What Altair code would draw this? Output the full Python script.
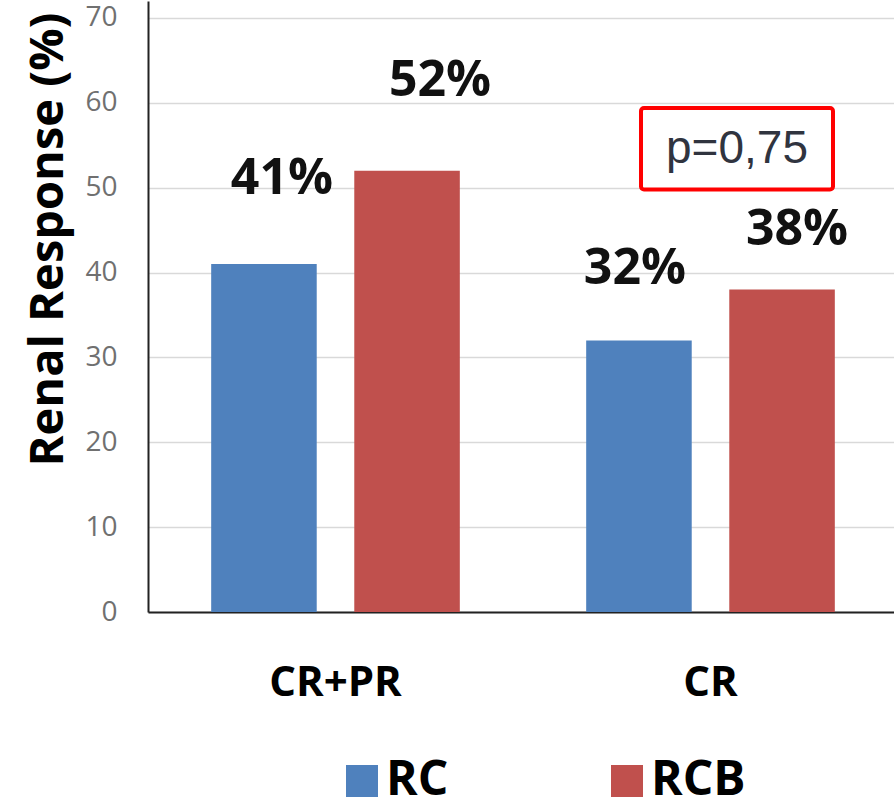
import altair as alt
import pandas as pd

# ---- data ----
categories = ["CR+PR", "CR"]
series = ["RC", "RCB"]
rc_values = [41, 32]
rcb_values = [52, 38]
rc_labels = ["41%", "32%"]
rcb_labels = ["52%", "38%"]
y_ticks = [0, 10, 20, 30, 40, 50, 60, 70]
p_text = ["p=0,75"]
p_box_low = [49.8]
p_box_high = [59.4]
p_text_y = [54.6]

colors = ["#4F81BD", "#C0504D"]

rows = []
for i, c in enumerate(categories):
    rows.append({"cat": c, "series": "RC", "value": rc_values[i], "label": rc_labels[i]})
    rows.append({"cat": c, "series": "RCB", "value": rcb_values[i], "label": rcb_labels[i]})
df = pd.DataFrame(rows)

# label offsets (style only): (dx, dy)
label_style = {
    ("CR+PR", "RC"): (18, -70),
    ("CR+PR", "RCB"): (33, -75),
    ("CR", "RC"): (-4, -56),
    ("CR", "RCB"): (15, -45),
}

FONT = "Open Sans"

x_enc = alt.X(
    "cat:N",
    sort=categories,
    scale=alt.Scale(domain=categories, range=[0, 750], paddingInner=0, paddingOuter=0),
    axis=alt.Axis(
        title=None, labelAngle=0, ticks=False, grid=False,
        labelFont=FONT, labelFontSize=42, labelFontWeight="bold", labelColor="#000000",
        labelPadding=50, domainColor="#222222", domainWidth=2,
    ),
)
xo_enc = alt.XOffset(
    "series:N",
    sort=series,
    scale=alt.Scale(domain=series, paddingInner=0.2624, paddingOuter=0.4415),
)
y_enc = alt.Y(
    "value:Q",
    scale=alt.Scale(domain=[0, 72], nice=False, zero=True),
    axis=alt.Axis(
        values=y_ticks, title="Renal Response (%)", ticks=False,
        labelFont=FONT, labelFontSize=28, labelColor="#707070", labelPadding=31,
        gridColor="#d9d9d9", gridWidth=1.5, domainColor="#222222", domainWidth=2,
        titleFont=FONT, titleFontSize=47, titleFontWeight="bold", titleColor="#000000",
        titleAngle=270, titleAlign="center", titleBaseline="alphabetic",
        titleX=-86, titleY=238,
    ),
)

base = alt.Chart(df)

bars = base.mark_bar().encode(
    x=x_enc,
    xOffset=xo_enc,
    y=y_enc,
    color=alt.Color(
        "series:N",
        scale=alt.Scale(domain=series, range=colors),
        legend=alt.Legend(
            title=None, orient="none", direction="horizontal", legendX=190, legendY=756,
            symbolType="square", symbolSize=1024, symbolStrokeWidth=0, symbolOpacity=1,
            labelFont=FONT, labelFontSize=48, labelFontWeight="bold", labelColor="#000000",
            labelOffset=0, columnPadding=154, padding=0, labelLimit=300,
        ),
    ),
)

texts = []
for (c, s), (dx, dy) in label_style.items():
    t = base.transform_filter(
        (alt.datum.cat == c) & (alt.datum.series == s)
    ).mark_text(
        font=FONT, fontSize=50, fontWeight="bold", color="#111111",
        baseline="alphabetic", align="center", dx=dx, dy=dy,
    ).encode(
        x=alt.X("cat:N", sort=categories),
        xOffset=alt.XOffset("series:N", sort=series),
        y=alt.Y("value:Q"),
        text="label:N",
    )
    texts.append(t)

ann = alt.Chart(pd.DataFrame({"t": p_text, "lo": p_box_low, "hi": p_box_high, "ty": p_text_y}))
box = ann.mark_rect(fill="white", stroke="#FF0000", strokeWidth=4, cornerRadius=3).encode(
    x=alt.value(493), x2=alt.value(685),
    y=alt.Y("hi:Q"), y2="lo:Q",
)
ptext = ann.mark_text(
    font="Liberation Sans", fontSize=46, color="#30343f", align="center", baseline="middle"
).encode(
    x=alt.value(589), y=alt.Y("ty:Q"), text="t:N",
)

chart = alt.layer(bars, *texts, box, ptext).properties(
    width=746, height=611,
    padding={"left": 148, "top": 1, "right": 0, "bottom": 189},
    autosize=alt.AutoSizeParams(type="none"),
    background="white",
).configure_view(stroke=None)

chart.save("out.html", embed_options={"renderer": "svg", "actions": False})
